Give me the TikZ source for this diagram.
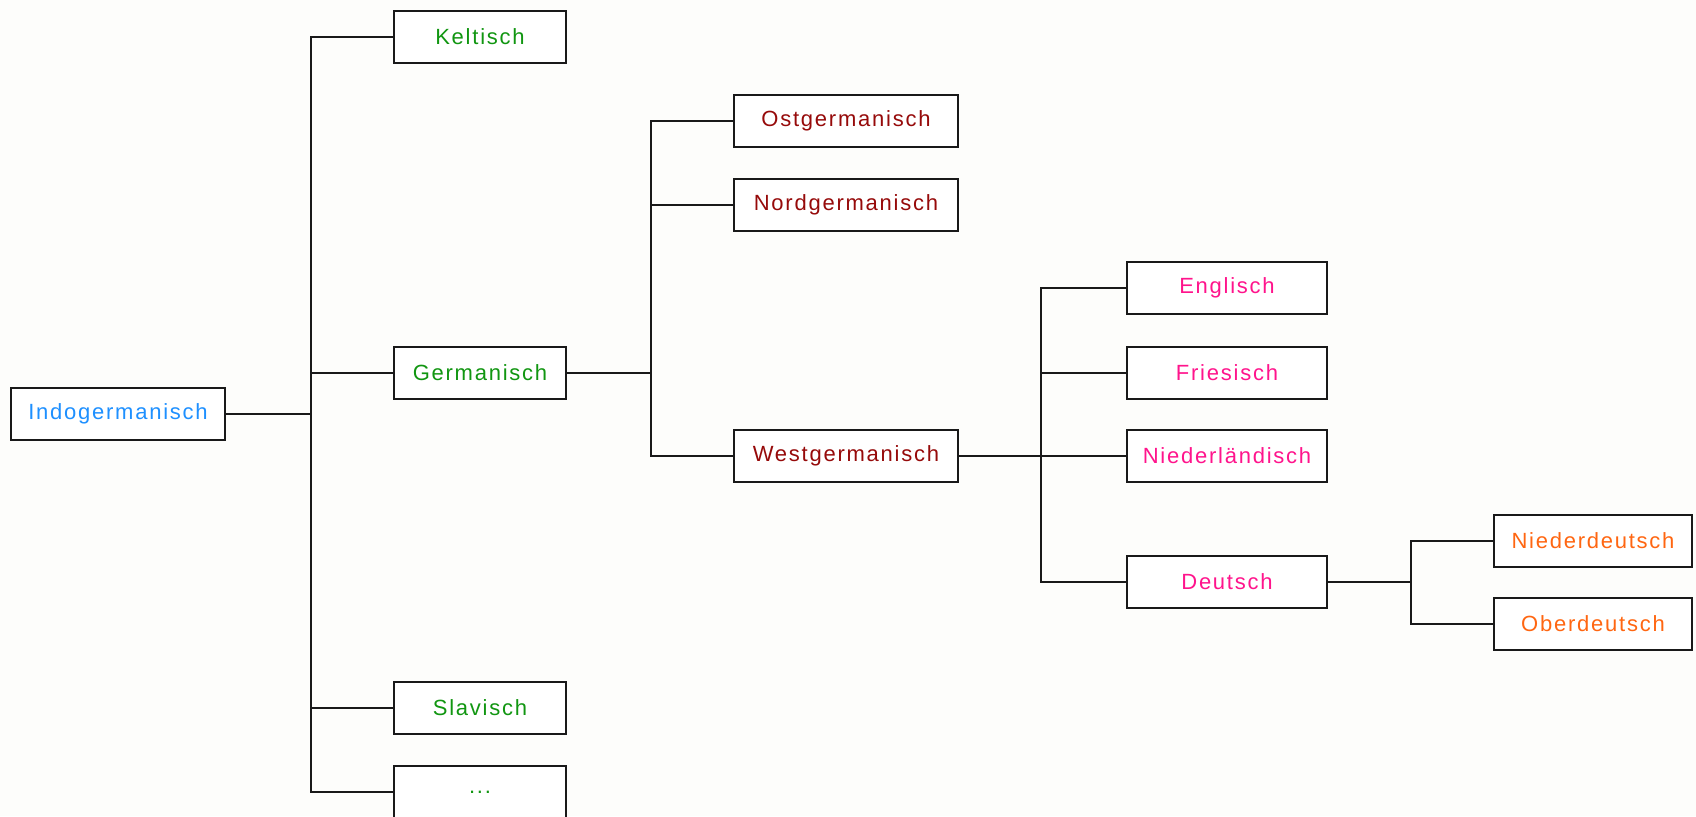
\documentclass[tikz,border=0pt]{standalone}
\usepackage{fontspec}
\setmainfont[LetterSpace=8]{Liberation Sans}
\definecolor{bgc}{RGB}{253,253,251}
\definecolor{cblue}{RGB}{30,144,255}
\definecolor{cgreen}{RGB}{17,150,17}
\definecolor{cdred}{RGB}{150,10,10}
\definecolor{cpink}{RGB}{255,20,140}
\definecolor{corange}{RGB}{255,102,17}
\definecolor{cline}{RGB}{25,25,25}
\tikzset{
  lbox/.style={draw=cline, line width=2pt, fill=white, rectangle, inner sep=0pt,
    minimum height=52pt, font=\fontsize{22}{26}\selectfont},
  conn/.style={draw=cline, line width=2pt}
}
\begin{document}
\begin{tikzpicture}[x=1pt,y=-1pt]
\clip (0,0) rectangle (1696,816);
\fill[bgc] (0,0) rectangle (1696,816);
% level 0
\node[lbox, minimum width=214pt, text=cblue] (indo) at (118,414) {Indogermanisch};
% level 1
\node[lbox, minimum width=172pt, text=cgreen] (kelt) at (480,37) {Keltisch};
\node[lbox, minimum width=172pt, text=cgreen] (germ) at (480,373) {Germanisch};
\node[lbox, minimum width=172pt, text=cgreen] (slav) at (480,708) {Slavisch};
\node[lbox, minimum width=172pt, text=cgreen] (dots) at (480,792) {...};
% level 2
\node[lbox, minimum width=224pt, text=cdred] (ost) at (846,121) {Ostgermanisch};
\node[lbox, minimum width=224pt, text=cdred] (nord) at (846,205) {Nordgermanisch};
\node[lbox, minimum width=224pt, text=cdred] (west) at (846,456) {Westgermanisch};
% level 3
\node[lbox, minimum width=200pt, text=cpink] (engl) at (1227,288) {Englisch};
\node[lbox, minimum width=200pt, text=cpink] (fries) at (1227,373) {Friesisch};
\node[lbox, minimum width=200pt, text=cpink] (nl) at (1227,456) {Niederländisch};
\node[lbox, minimum width=200pt, text=cpink] (deu) at (1227,582) {Deutsch};
% level 4
\node[lbox, minimum width=198pt, text=corange] (nd) at (1593,541) {Niederdeutsch};
\node[lbox, minimum width=198pt, text=corange] (od) at (1593,624) {Oberdeutsch};
% junctions
\coordinate (j1) at (311,414);
\coordinate (j2) at (651,373);
\coordinate (j3) at (1041,456);
\coordinate (j4) at (1411,582);
% connectors
\draw[conn] (indo.east) -- (j1);
\draw[conn] (j1) |- (kelt.west);
\draw[conn] (j1) |- (germ.west);
\draw[conn] (j1) |- (slav.west);
\draw[conn] (j1) |- (dots.west);
\draw[conn] (germ.east) -- (j2);
\draw[conn] (j2) |- (ost.west);
\draw[conn] (j2) |- (nord.west);
\draw[conn] (j2) |- (west.west);
\draw[conn] (west.east) -- (j3);
\draw[conn] (j3) |- (engl.west);
\draw[conn] (j3) |- (fries.west);
\draw[conn] (j3) |- (nl.west);
\draw[conn] (j3) |- (deu.west);
\draw[conn] (deu.east) -- (j4);
\draw[conn] (j4) |- (nd.west);
\draw[conn] (j4) |- (od.west);
\end{tikzpicture}
\end{document}
